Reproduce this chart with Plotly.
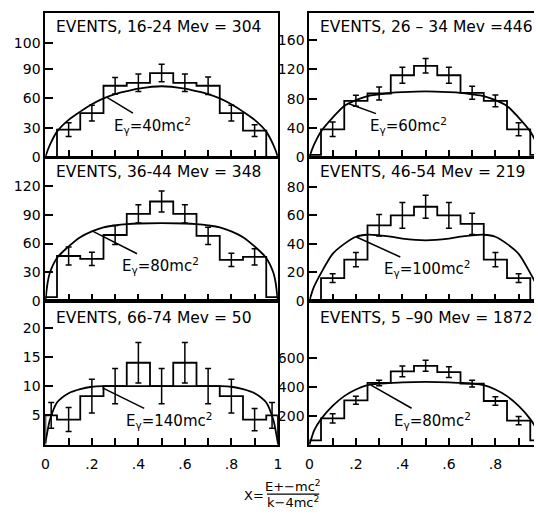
import plotly.graph_objects as go

# ---------------- data ----------------
bin_edges = [0, 0.05, 0.15, 0.25, 0.35, 0.45, 0.55, 0.65, 0.75, 0.85, 0.95, 1.0]
err_x = [0.1, 0.2, 0.3, 0.4, 0.5, 0.6, 0.7, 0.8, 0.9]
err_x_edges = [0.025, 0.1, 0.2, 0.3, 0.4, 0.5, 0.6, 0.7, 0.8, 0.9, 0.975]
curve_x = [0, 0.01, 0.02, 0.05, 0.1, 0.15, 0.2, 0.25, 0.3, 0.35, 0.4, 0.5,
           0.6, 0.65, 0.7, 0.75, 0.8, 0.85, 0.9, 0.95, 0.98, 0.99, 1.0]

titles = ["EVENTS, 16-24 Mev = 304", "EVENTS, 26 \u2013 34 Mev =446",
          "EVENTS, 36-44 Mev = 348", "EVENTS, 46-54 Mev = 219",
          "EVENTS, 66-74 Mev = 50", "EVENTS, 5 \u201390 Mev = 1872"]
energy_labels = ["E<sub>\u03b3</sub>=40mc<sup>2</sup>", "E<sub>\u03b3</sub>=60mc<sup>2</sup>",
                 "E<sub>\u03b3</sub>=80mc<sup>2</sup>", "E<sub>\u03b3</sub>=100mc<sup>2</sup>",
                 "E<sub>\u03b3</sub>=140mc<sup>2</sup>", "E<sub>\u03b3</sub>=80mc<sup>2</sup>"]

counts_16_24 = [0, 28, 45, 73, 76, 86, 76, 73, 45, 27, 0]
err_16_24 = [7, 8, 8.5, 9, 9, 9, 9, 8, 6]
curve_16_24 = [0, 7, 12.8, 26, 38, 46.5, 54, 60, 64.4, 67.4, 70, 72.5,
               70, 67.4, 64.4, 60, 54, 46.5, 38, 26, 12.8, 7, 0]

counts_26_34 = [3, 38, 77, 87, 112, 125, 112, 88, 77, 38, 3]
err_26_34 = [10, 7.5, 9, 11, 10, 11, 9, 8, 9]
curve_26_34 = [0, 9, 17, 35, 54, 70, 78, 83.5, 86, 88, 89, 90,
               89, 88, 86, 83.5, 78, 70, 54, 35, 17, 9, 0]

counts_36_44 = [4, 47, 44, 69, 91, 104, 91, 68, 43, 46, 4]
err_36_44 = [9.5, 7, 10, 9.5, 11, 9.5, 9, 7, 8.5]
curve_36_44 = [0, 19.6, 30, 45, 57, 66.7, 72.8, 77, 79, 80.3, 81, 81.4,
               81, 80.3, 79, 77, 72.8, 66.7, 57, 45, 30, 19.6, 0]

counts_46_54 = [0, 16, 29, 53, 60, 66, 60, 54, 29, 16, 0]
err_46_54 = [3, 5, 7.5, 9, 8, 9, 7.5, 5, 3]
curve_46_54 = [0, 5.5, 10, 19.5, 33, 40, 45, 46.4, 46, 45, 43.7, 42.5,
               43.7, 45, 46, 46.4, 45, 40, 33, 19.5, 10, 5.5, 0]

counts_66_74 = [5, 4.3, 8.3, 10, 14, 10, 14, 10, 8.3, 4.3, 5]
err_66_74 = [2.2, 2.05, 2.9, 3, 3.45, 3, 3.45, 3, 2.9, 1.9, 2.2]
curve_66_74 = [0.3, 2.5, 4.3, 7.2, 8.8, 9.5, 9.9, 10, 10, 10, 10, 10,
               10, 10, 10, 10, 9.9, 9.5, 8.8, 7.2, 4.3, 2.5, 0.3]

counts_5_90 = [30, 183, 309, 430, 510, 549, 505, 425, 304, 167, 30]
err_5_90 = [32, 28, 19, 37, 38, 38, 23, 30, 29]
curve_5_90 = [0, 50, 98, 178, 270, 338, 384, 414, 425, 430, 434, 437,
              434, 430, 425, 414, 384, 338, 270, 178, 98, 50, 0]

# y tick values / labels per panel (the printed "100" of the first panel sits
# where the original drawing places it, above the evenly spaced 0-30-60-90)
ytick_vals = [[0, 30, 60, 90, 117], [0, 40, 80, 120, 160], [0, 30, 60, 90, 120],
              [0, 20, 40, 60, 80], [5, 10, 15, 20], [200, 400, 600]]
ytick_text = [["0", "30", "60", "90", "100"], ["0", "40", "80", "120", "160"],
              ["0", "30", "60", "90", "120"], ["0", "20", "40", "60", "80"],
              ["5", "10", "15", "20"], ["200", "400", "600"]]
xtick_vals = [0, 0.2, 0.4, 0.6, 0.8, 1.0]
xtick_text = ["0", ".2", ".4", ".6", ".8", "1"]
xminor_vals = [0.1, 0.3, 0.5, 0.7, 0.9]

# label positions (data coords): text centre and the curve point it refers to
label_text_pos = [(0.462, 32.6), (0.428, 43), (0.496, 36.8), (0.504, 22.4), (0.53, 4.15), (0.53, 170)]
label_tip_pos = [(0.265, 61), (0.17, 73), (0.203, 73), (0.2, 45), (0.246, 9.7), (0.265, 415)]

panels = [
    (counts_16_24, err_x, err_16_24, curve_16_24),
    (counts_26_34, err_x, err_26_34, curve_26_34),
    (counts_36_44, err_x, err_36_44, curve_36_44),
    (counts_46_54, err_x, err_46_54, curve_46_54),
    (counts_66_74, err_x_edges, err_66_74, curve_66_74),
    (counts_5_90, err_x, err_5_90, curve_5_90),
]

# ---------------- layout geometry (pixels -> paper) ----------------
W, H = 538, 516
left_dom = [42 / W, 278 / W]
right_dom = [310 / W, 1.0]
right_xmax = (W - 310) / 236.0
row_px = [(12.7, 159.5), (160.0, 305.7), (306.0, 451.7)]
row_dom = [[1 - b / H, 1 - t / H] for (t, b) in row_px]
y_ranges = [148, 198, 150, 100.5, 24.5, 998]

FONT = "DejaVu Sans"
fig = go.Figure()
layout = dict(width=W, height=H, margin=dict(l=0, r=0, t=0, b=0),
              paper_bgcolor="white", plot_bgcolor="white", showlegend=False)
annotations = []

for i, (counts, ex, er, cy) in enumerate(panels):
    n = i + 1
    col = i % 2
    row = i // 2
    xa = "x" if n == 1 else f"x{n}"
    ya = "y" if n == 1 else f"y{n}"

    # step histogram built from bin edges & counts
    hx = [bin_edges[0]] + bin_edges[:-1] + [bin_edges[-1]]
    hy = [0] + list(counts) + [0]
    fig.add_trace(go.Scatter(x=hx, y=hy, mode="lines", line=dict(shape="hv", color="black", width=1.8),
                             xaxis=xa, yaxis=ya, hoverinfo="skip"))
    # error bars at bin centres
    centers = [(bin_edges[k] + bin_edges[k + 1]) / 2 for k in range(len(counts))]
    ey = []
    for xv in ex:
        k = min(range(len(centers)), key=lambda j: abs(centers[j] - xv))
        ey.append(counts[k])
    fig.add_trace(go.Scatter(x=ex, y=ey, mode="markers", marker=dict(size=1, color="black"),
                             error_y=dict(type="data", array=er, color="black", thickness=1.5, width=3),
                             xaxis=xa, yaxis=ya, hoverinfo="skip"))
    # theoretical curve
    fig.add_trace(go.Scatter(x=curve_x, y=cy, mode="lines",
                             line=dict(shape="spline", smoothing=0.8, color="black", width=1.8),
                             xaxis=xa, yaxis=ya, hoverinfo="skip"))

    xkey = "xaxis" if n == 1 else f"xaxis{n}"
    ykey = "yaxis" if n == 1 else f"yaxis{n}"
    layout[xkey] = dict(domain=left_dom if col == 0 else right_dom, anchor=ya,
                        range=[0, 1] if col == 0 else [0, right_xmax],
                        showline=True, linewidth=2, linecolor="black", mirror=True,
                        showgrid=False, zeroline=False,
                        ticks="inside", ticklen=7, tickwidth=1.5, tickcolor="black",
                        tickmode="array", tickvals=xtick_vals, ticktext=xtick_text,
                        minor=dict(tickmode="array", tickvals=xminor_vals, ticks="inside",
                                   ticklen=7, tickwidth=1.5, tickcolor="black", showgrid=False),
                        showticklabels=(row == 2), ticklabelstandoff=6,
                        tickfont=dict(family=FONT, size=14, color="black"))
    layout[ykey] = dict(domain=row_dom[row], anchor=xa, range=[0, y_ranges[i]],
                        showline=True, linewidth=2, linecolor="black", mirror=(col == 0),
                        showgrid=False, zeroline=False,
                        ticks="inside", ticklen=8, tickwidth=1.5, tickcolor="black",
                        tickmode="array", tickvals=ytick_vals[i], ticktext=ytick_text[i],
                        tickfont=dict(family=FONT, size=14, color="black"))

    # panel title
    tx = 51 if col == 0 else 319
    ty = [27, 175, 323][row]
    annotations.append(dict(xref="paper", yref="paper", x=tx / W, y=1 - ty / H, xanchor="left",
                            yanchor="middle", text=titles[i], showarrow=False,
                            font=dict(family=FONT, size=15.5, color="black")))
    # energy label with leader
    (ax_, ay_), (px_, py_) = label_text_pos[i], label_tip_pos[i]
    annotations.append(dict(xref=xa, yref=ya, x=px_, y=py_, axref=xa, ayref=ya, ax=ax_, ay=ay_,
                            text=energy_labels[i], showarrow=True, arrowhead=0, arrowwidth=1.5,
                            arrowcolor="black", standoff=0,
                            font=dict(family=FONT, size=15, color="black")))

# x-axis formula  X = (E+ - mc^2)/(k - 4mc^2)
fsz = 13
annotations.append(dict(xref="paper", yref="paper", x=254 / W, y=1 - 503 / H, text="X=",
                        xanchor="center", yanchor="middle",
                        showarrow=False, font=dict(family=FONT, size=fsz, color="black")))
annotations.append(dict(xref="paper", yref="paper", x=293 / W, y=1 - 494 / H,
                        xanchor="center", yanchor="middle",
                        text="E+\u2212mc<sup>2</sup>", showarrow=False,
                        font=dict(family=FONT, size=fsz, color="black")))
annotations.append(dict(xref="paper", yref="paper", x=293 / W, y=1 - 510 / H,
                        xanchor="center", yanchor="middle",
                        text="k\u22124mc<sup>2</sup>", showarrow=False,
                        font=dict(family=FONT, size=fsz, color="black")))
layout["shapes"] = [dict(type="line", xref="paper", yref="paper", x0=267 / W, x1=320 / W,
                         y0=1 - 502 / H, y1=1 - 502 / H, line=dict(color="black", width=1.3))]
layout["annotations"] = annotations
fig.update_layout(**layout)
fig.write_html("out.html")
